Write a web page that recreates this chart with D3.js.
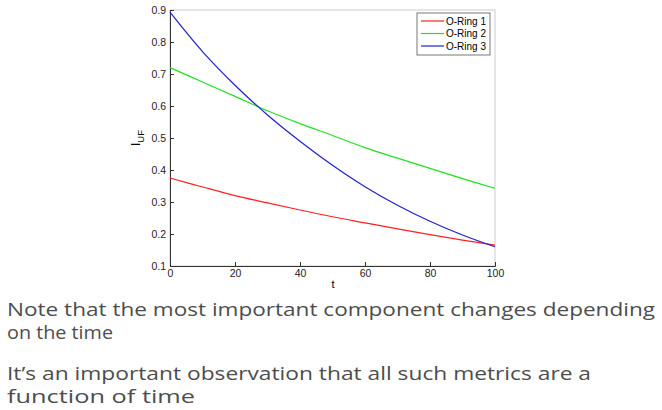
<!DOCTYPE html>
<html><head><meta charset="utf-8">
<script src="https://cdn.jsdelivr.net/npm/d3@7"></script>
<style>body{margin:0;background:#fff}</style>
</head><body><svg id="c" width="662" height="410"></svg>
<script>
const tValues = [0,10,20,30,40,50,60,70,80,90,100];
const ring1 = [0.375,0.347,0.32,0.297,0.275,0.254,0.235,0.216,0.198,0.181,0.165];
const ring2 = [0.72,0.675,0.63,0.585,0.545,0.508,0.47,0.437,0.405,0.373,0.343];
const ring3 = [0.893,0.77,0.665,0.572,0.49,0.415,0.348,0.29,0.24,0.197,0.16];
const seriesNames = ["O-Ring 1","O-Ring 2","O-Ring 3"];
const colors = ["#ff2020","#20e020","#2020d0"];
const xTicks = [0,20,40,60,80,100];
const yTicks = [0.1,0.2,0.3,0.4,0.5,0.6,0.7,0.8,0.9];
const notes = ["Note that the most important component changes depending","on the time","It\u2019s an important observation that all such metrics are a","function of time"];
const noteWidths = [648,106,584,188];

const svg = d3.select("#c");
const x = d3.scaleLinear().domain([0,100]).range([170,495]);
const y = d3.scaleLinear().domain([0.1,0.9]).range([266,10]);

svg.append("rect").attr("x",170).attr("y",10).attr("width",325).attr("height",256)
  .attr("fill","none").attr("stroke","#ccc");

const xa = svg.append("g").attr("transform","translate(0,266)")
  .call(d3.axisBottom(x).tickValues(xTicks).tickSize(-4).tickPadding(4));
const ya = svg.append("g").attr("transform","translate(170,0)")
  .call(d3.axisLeft(y).tickValues(yTicks).tickFormat(d3.format(".1f")).tickSize(-4).tickPadding(4));
[xa,ya].forEach(a=>{a.selectAll("text").attr("font-family","Liberation Sans, Arial").attr("font-size",10.5).attr("fill","#222");
  a.selectAll("line,path").attr("stroke","#333");});

svg.append("text").attr("x",333).attr("y",288).attr("text-anchor","middle")
  .attr("font-family","Liberation Sans, Arial").attr("font-size",11).text("t");
const yl = svg.append("text").attr("transform","translate(140,138) rotate(-90)").attr("text-anchor","middle")
  .attr("font-family","Liberation Sans, Arial").attr("font-size",12);
yl.append("tspan").text("I");
yl.append("tspan").attr("font-size",9.5).attr("dy",4).text("UF");

const line = d3.line().x((d,i)=>x(tValues[i])).y(d=>y(d)).curve(d3.curveCatmullRom);
[ring1,ring2,ring3].forEach((s,i)=>{
  svg.append("path").attr("d",line(s)).attr("fill","none").attr("stroke",colors[i]).attr("stroke-width",1.2);
});

const lg = svg.append("g");
lg.append("rect").attr("x",417).attr("y",13).attr("width",73).attr("height",42).attr("fill","#fff").attr("stroke","#555").attr("stroke-width",0.8);
seriesNames.forEach((n,i)=>{
  const yy = 21+i*12.5;
  lg.append("line").attr("x1",421).attr("x2",444).attr("y1",yy).attr("y2",yy).attr("stroke",colors[i]).attr("stroke-width",1.2);
  lg.append("text").attr("x",446).attr("y",yy+3.5).attr("font-family","Liberation Sans, Arial").attr("font-size",10).text(n);
});

const ny = [316,339,380,403];
notes.forEach((t,i)=>{
  svg.append("text").attr("x",7).attr("y",ny[i]).attr("font-family","Open Sans").attr("font-size",18.5)
    .attr("fill","#4d4d4d").attr("textLength",noteWidths[i]).attr("lengthAdjust","spacingAndGlyphs").text(t);
});
</script></body></html>
